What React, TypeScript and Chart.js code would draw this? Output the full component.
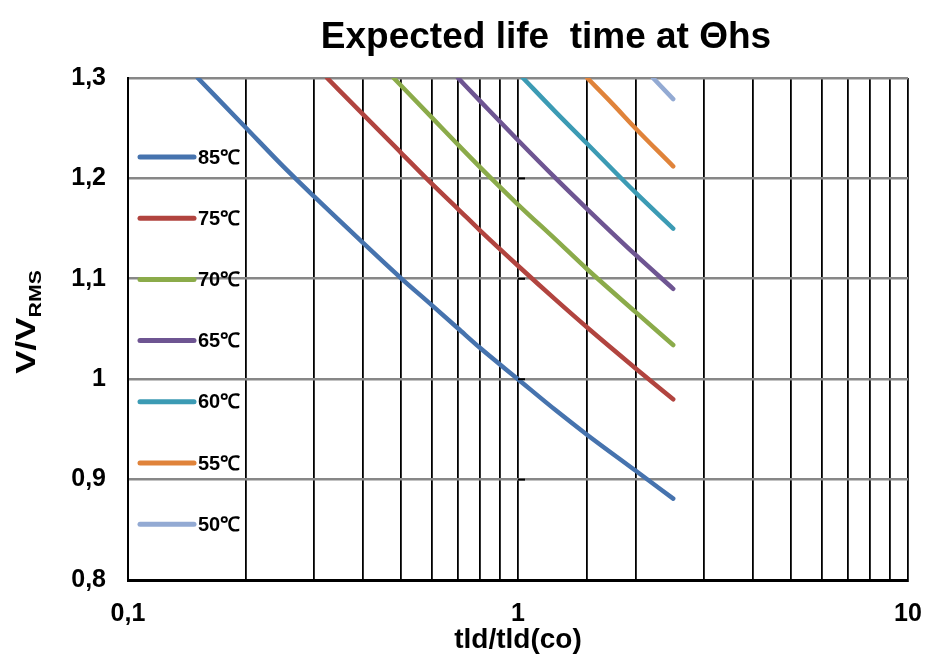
import React, { useEffect, useRef } from "react";
import { Chart, registerables } from "chart.js";

Chart.register(...registerables);

const titleText = "Expected life  time at Θhs";
const xAxisTitle = "tld/tld(co)";
const yAxisTitleMain = "V/V";
const yAxisTitleSub = "RMS";

const seriesLabels = ["85℃", "75℃", "70℃", "65℃", "60℃", "55℃", "50℃"];
const seriesColors = ["#4673AE", "#B1443F", "#8BAB4A", "#6E5592", "#3C9BB4", "#E0833A", "#93AAD3"];

const x85 = [0.151, 0.2, 0.25, 0.3, 0.4, 0.5, 0.6, 0.7, 0.8, 1, 1.25, 1.5, 2, 2.5];
const y85 = [1.3, 1.251, 1.212, 1.182, 1.136, 1.101, 1.074, 1.051, 1.031, 1.0, 0.969, 0.945, 0.909, 0.881];
const x75 = [0.324, 0.4, 0.5, 0.6, 0.7, 0.8, 1, 1.25, 1.5, 2, 2.5];
const y75 = [1.3, 1.264, 1.226, 1.195, 1.17, 1.148, 1.113, 1.079, 1.052, 1.011, 0.98];
const x70 = [0.48, 0.6, 0.7, 0.8, 1, 1.25, 1.5, 2, 2.5];
const y70 = [1.3, 1.261, 1.234, 1.211, 1.174, 1.139, 1.11, 1.067, 1.034];
const x65 = [0.702, 0.8, 1, 1.25, 1.5, 2, 2.5];
const y65 = [1.3, 1.277, 1.238, 1.2, 1.17, 1.124, 1.09];
const x60 = [1.03, 1.25, 1.5, 2, 2.5];
const y60 = [1.3, 1.266, 1.235, 1.186, 1.15];
const x55 = [1.505, 1.75, 2, 2.5];
const y55 = [1.3, 1.274, 1.25, 1.212];
const x50 = [2.22, 2.5];
const y50 = [1.3, 1.279];

const seriesX = [x85, x75, x70, x65, x60, x55, x50];
const seriesY = [y85, y75, y70, y65, y60, y55, y50];

const xTickValues = [0.1, 1, 10];
const xTickLabels = ["0,1", "1", "10"];
const yTickLabels = ["0,8", "0,9", "1", "1,1", "1,2", "1,3"];
const innerTickValues = [0.9, 1.0, 1.1, 1.2];
const innerTickAxisX = 1;

const FONT = "'Liberation Sans', Arial, sans-serif";

const decorPlugin = {
  id: "decor",
  afterDraw(chart: any) {
    const { ctx, chartArea } = chart;
    const xs = chart.scales.x;
    const ys = chart.scales.y;
    ctx.save();

    // small tick marks on the x = 1 line
    const ax = xs.getPixelForValue(innerTickAxisX);
    ctx.strokeStyle = "#000";
    ctx.lineWidth = 2;
    innerTickValues.forEach((v) => {
      const py = ys.getPixelForValue(v);
      ctx.beginPath();
      ctx.moveTo(ax, py);
      ctx.lineTo(ax + 7, py);
      ctx.stroke();
    });

    // Title
    ctx.fillStyle = "#000";
    ctx.font = `bold 37px ${FONT}`;
    ctx.textAlign = "center";
    ctx.textBaseline = "alphabetic";
    ctx.fillText(titleText, 546, 48);

    // X axis title
    ctx.font = `bold 28px ${FONT}`;
    ctx.textBaseline = "middle";
    ctx.fillText(xAxisTitle, (chartArea.left + chartArea.right) / 2, 640);

    // Y axis title (rotated with subscript)
    ctx.save();
    ctx.translate(27, 322);
    ctx.rotate(-Math.PI / 2);
    ctx.scale(1.25, 1);
    ctx.font = `bold 28px ${FONT}`;
    const wMain = ctx.measureText(yAxisTitleMain).width;
    ctx.font = `bold 17px ${FONT}`;
    const wSub = ctx.measureText(yAxisTitleSub).width;
    const start = -(wMain + wSub) / 2;
    ctx.textAlign = "left";
    ctx.textBaseline = "alphabetic";
    ctx.font = `bold 28px ${FONT}`;
    ctx.fillText(yAxisTitleMain, start, 8);
    ctx.font = `bold 17px ${FONT}`;
    ctx.fillText(yAxisTitleSub, start + wMain, 14);
    ctx.restore();

    // Legend inside the plot area
    const lx1 = chartArea.left + 12;
    const lx2 = chartArea.left + 66;
    ctx.font = `bold 20px ${FONT}`;
    ctx.textAlign = "left";
    ctx.textBaseline = "middle";
    chart.data.datasets.forEach((ds: any, i: number) => {
      const y = chartArea.top + 79 + i * 61.2;
      ctx.beginPath();
      ctx.strokeStyle = ds.borderColor;
      ctx.lineWidth = 5;
      ctx.lineCap = "round";
      ctx.moveTo(lx1, y);
      ctx.lineTo(lx2, y);
      ctx.stroke();
      ctx.fillStyle = "#000";
      ctx.fillText(ds.label, lx2 + 4, y + 1);
    });
    ctx.restore();
  },
};

export default function App() {
  const ref = useRef<HTMLCanvasElement | null>(null);

  useEffect(() => {
    if (!ref.current) return;
    const datasets = seriesLabels.map((label, i) => ({
      label,
      data: seriesX[i].map((x, j) => ({ x, y: seriesY[i][j] })),
      borderColor: seriesColors[i],
      backgroundColor: seriesColors[i],
      borderWidth: 4.5,
      borderCapStyle: "round" as const,
      borderJoinStyle: "round" as const,
      pointRadius: 0,
      cubicInterpolationMode: "monotone" as const,
      fill: false,
    }));

    const chart = new Chart(ref.current, {
      type: "line",
      data: { datasets },
      plugins: [decorPlugin],
      options: {
        animation: false,
        responsive: false,
        devicePixelRatio: 1,
        layout: { padding: { top: 78, right: 17, left: 0, bottom: 0 } },
        plugins: {
          legend: { display: false },
          title: { display: false },
          tooltip: { enabled: false },
        },
        scales: {
          x: {
            type: "logarithmic",
            min: 0.1,
            max: 10,
            afterFit: (s: any) => {
              s.height = 75;
              s.paddingLeft = 0;
              s.paddingRight = 0;
            },
            grid: {
              color: "#000",
              lineWidth: 1.8,
              drawTicks: false,
            },
            border: { color: "#000", width: 3 },
            ticks: {
              autoSkip: false,
              maxRotation: 0,
              padding: 19,
              color: "#000",
              font: { family: FONT, size: 25, weight: "bold" },
              callback: (value: any) => {
                const v = Number(value);
                const idx = xTickValues.findIndex((t) => Math.abs(t - v) / t < 1e-6);
                return idx >= 0 ? xTickLabels[idx] : "";
              },
            },
          },
          y: {
            min: 0.8,
            max: 1.3,
            afterFit: (s: any) => {
              s.width = 128;
              s.paddingTop = 0;
              s.paddingBottom = 0;
            },
            grid: {
              color: (c: any) => (c.index === 0 ? "rgba(0,0,0,0)" : "#878787"),
              lineWidth: 2.6,
              drawTicks: false,
            },
            border: { color: "#000", width: 2 },
            ticks: {
              stepSize: 0.1,
              padding: 22,
              color: "#000",
              font: { family: FONT, size: 25, weight: "bold" },
              callback: (_v: any, index: number) => yTickLabels[index] ?? "",
            },
          },
        },
      },
    });
    return () => chart.destroy();
  }, []);

  return (
    <div style={{ position: "fixed", left: 0, top: 0, width: 925, height: 655, background: "#fff" }}>
      <canvas ref={ref} width={925} height={655} style={{ width: 925, height: 655 }} />
    </div>
  );
}
